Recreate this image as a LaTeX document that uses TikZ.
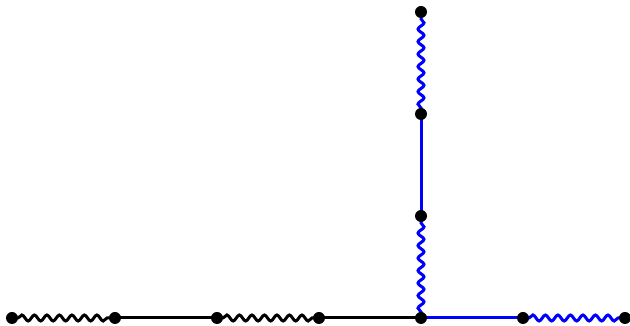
\documentclass[tikz,border=0pt]{standalone}
\usetikzlibrary{decorations.pathmorphing}
\begin{document}
\begin{tikzpicture}[x=1pt,y=1pt,
  edge/.style={line width=3pt},
  wavy/.style={line width=3pt,decorate,decoration={snake,segment length=12.5pt,amplitude=3pt,pre length=6pt,post length=6pt}},
  dot/.style={circle,fill=black,inner sep=0pt,minimum size=12pt}]
\useasboundingbox (0,0) rectangle (630,326);
\coordinate (h1) at (12,8);
\coordinate (h2) at (115,8);
\coordinate (h3) at (217,8);
\coordinate (h4) at (319,8);
\coordinate (c) at (421,8);
\coordinate (h6) at (523,8);
\coordinate (h7) at (625,8);
\coordinate (v1) at (421,110);
\coordinate (v2) at (421,212);
\coordinate (v3) at (421,314);
\draw[wavy,black] (h1) -- (h2);
\draw[edge,black] (h2) -- (h3);
\draw[wavy,black] (h3) -- (h4);
\draw[edge,black] (h4) -- (c);
\draw[edge,blue] (c) -- (h6);
\draw[wavy,blue] (h6) -- (h7);
\draw[wavy,blue] (c) -- (v1);
\draw[edge,blue] (v1) -- (v2);
\draw[wavy,blue] (v2) -- (v3);
\foreach \p in {h1,h2,h3,h4,c,h6,h7,v1,v2,v3} \node[dot] at (\p) {};
\end{tikzpicture}
\end{document}
